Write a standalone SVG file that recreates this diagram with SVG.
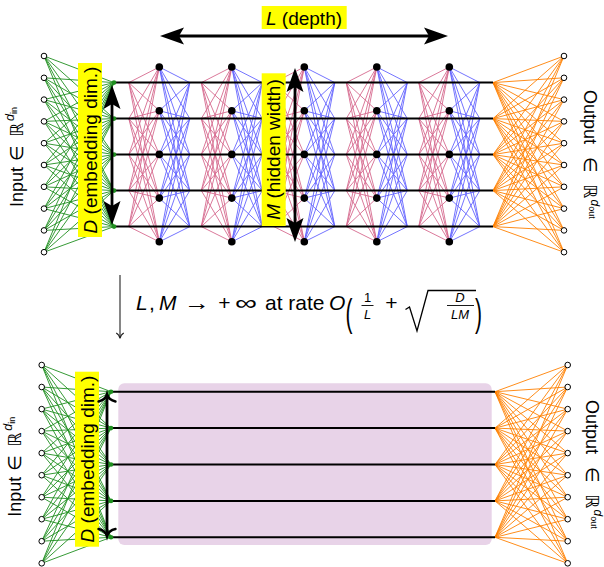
<svg xmlns="http://www.w3.org/2000/svg" xmlns:xlink="http://www.w3.org/1999/xlink" width="604" height="567" viewBox="0 0 604 567">
<style>
.g{stroke:#1f8f1f;stroke-width:.9;fill:none}
.pk{stroke:#d66a8e;stroke-width:.9;fill:none}
.bl{stroke:#6464ff;stroke-width:.9;fill:none}
.or{stroke:#ff8000;stroke-width:.9;fill:none}
.res{stroke:#000;stroke-width:2;fill:none}
.io{fill:#fff;stroke:#000;stroke-width:1}
.gn{fill:#1f8f1f}
.hn{fill:#000}
.yb{fill:#ffff00}
.arr{stroke:#000;stroke-width:2.8;fill:none}
.lbl{font-family:"Liberation Sans","DejaVu Sans",sans-serif;font-size:19px;fill:#000}
.f{font-family:"Liberation Sans","DejaVu Sans",sans-serif;font-size:21px;fill:#000}
.s{font-family:"Liberation Sans","DejaVu Sans",sans-serif;font-size:13px;fill:#000}
.it{font-style:italic}
</style>
<defs>
<marker id="stealth" markerUnits="userSpaceOnUse" viewBox="-30 -12 40 24" markerWidth="40" markerHeight="24" refX="-8" refY="0" orient="auto-start-reverse" overflow="visible"><path d="M0 0L-24 -8.5L-19 0L-24 8.5Z" fill="#000"/></marker>
<marker id="barb" markerUnits="userSpaceOnUse" viewBox="-12 -12 24 24" markerWidth="24" markerHeight="24" refX="0" refY="0" orient="auto-start-reverse" overflow="visible"><path d="M-6.5 -8.5C-5.5 -3.5 -2 -0.8 0.8 0C-2 0.8 -5.5 3.5 -6.5 8.5" fill="none" stroke="#000" stroke-width="2.4" stroke-linecap="round"/></marker>
<marker id="to" markerUnits="userSpaceOnUse" viewBox="-8 -6 12 12" markerWidth="12" markerHeight="12" refX="0" refY="0" orient="auto" overflow="visible"><path d="M-5 -3.8C-4 -1.6 -1.5 -0.4 0.5 0C-1.5 0.4 -4 1.6 -5 3.8" fill="none" stroke="#222" stroke-width="1.1"/></marker>
<g id="layer">
<path class="pk" d="M0 67L-30.5 82.6M0 67L-30.5 118.6M0 67L-30.5 154.6M0 67L-30.5 190.6M0 67L-30.5 226.6M0 110.7L-30.5 82.6M0 110.7L-30.5 118.6M0 110.7L-30.5 154.6M0 110.7L-30.5 190.6M0 110.7L-30.5 226.6M0 154.4L-30.5 82.6M0 154.4L-30.5 118.6M0 154.4L-30.5 154.6M0 154.4L-30.5 190.6M0 154.4L-30.5 226.6M0 198.1L-30.5 82.6M0 198.1L-30.5 118.6M0 198.1L-30.5 154.6M0 198.1L-30.5 190.6M0 198.1L-30.5 226.6M0 241.8L-30.5 82.6M0 241.8L-30.5 118.6M0 241.8L-30.5 154.6M0 241.8L-30.5 190.6M0 241.8L-30.5 226.6"/>
<path class="bl" d="M0 67L30.5 82.6M0 67L30.5 118.6M0 67L30.5 154.6M0 67L30.5 190.6M0 67L30.5 226.6M0 110.7L30.5 82.6M0 110.7L30.5 118.6M0 110.7L30.5 154.6M0 110.7L30.5 190.6M0 110.7L30.5 226.6M0 154.4L30.5 82.6M0 154.4L30.5 118.6M0 154.4L30.5 154.6M0 154.4L30.5 190.6M0 154.4L30.5 226.6M0 198.1L30.5 82.6M0 198.1L30.5 118.6M0 198.1L30.5 154.6M0 198.1L30.5 190.6M0 198.1L30.5 226.6M0 241.8L30.5 82.6M0 241.8L30.5 118.6M0 241.8L30.5 154.6M0 241.8L30.5 190.6M0 241.8L30.5 226.6"/>
</g>
</defs>

<rect id="limit-block" x="118.3" y="383.3" width="373.4" height="161.7" rx="6" fill="#e8d3e8"/>

<g id="connectors">
<path class="g" d="M114 82.6L44 56M114 82.6L44 77.8M114 82.6L44 99.6M114 82.6L44 121.4M114 82.6L44 143.2M114 82.6L44 165M114 82.6L44 186.8M114 82.6L44 208.6M114 82.6L44 230.4M114 82.6L44 252.2M114 118.6L44 56M114 118.6L44 77.8M114 118.6L44 99.6M114 118.6L44 121.4M114 118.6L44 143.2M114 118.6L44 165M114 118.6L44 186.8M114 118.6L44 208.6M114 118.6L44 230.4M114 118.6L44 252.2M114 154.6L44 56M114 154.6L44 77.8M114 154.6L44 99.6M114 154.6L44 121.4M114 154.6L44 143.2M114 154.6L44 165M114 154.6L44 186.8M114 154.6L44 208.6M114 154.6L44 230.4M114 154.6L44 252.2M114 190.6L44 56M114 190.6L44 77.8M114 190.6L44 99.6M114 190.6L44 121.4M114 190.6L44 143.2M114 190.6L44 165M114 190.6L44 186.8M114 190.6L44 208.6M114 190.6L44 230.4M114 190.6L44 252.2M114 226.6L44 56M114 226.6L44 77.8M114 226.6L44 99.6M114 226.6L44 121.4M114 226.6L44 143.2M114 226.6L44 165M114 226.6L44 186.8M114 226.6L44 208.6M114 226.6L44 230.4M114 226.6L44 252.2"/>
<use xlink:href="#layer" href="#layer" x="159.3"/>
<use xlink:href="#layer" href="#layer" x="231.8"/>
<use xlink:href="#layer" href="#layer" x="304.3"/>
<use xlink:href="#layer" href="#layer" x="376.8"/>
<use xlink:href="#layer" href="#layer" x="449.3"/>
<path class="or" d="M493 82.6L564 56M493 82.6L564 77.8M493 82.6L564 99.6M493 82.6L564 121.4M493 82.6L564 143.2M493 82.6L564 165M493 82.6L564 186.8M493 82.6L564 208.6M493 82.6L564 230.4M493 82.6L564 252.2M493 118.6L564 56M493 118.6L564 77.8M493 118.6L564 99.6M493 118.6L564 121.4M493 118.6L564 143.2M493 118.6L564 165M493 118.6L564 186.8M493 118.6L564 208.6M493 118.6L564 230.4M493 118.6L564 252.2M493 154.6L564 56M493 154.6L564 77.8M493 154.6L564 99.6M493 154.6L564 121.4M493 154.6L564 143.2M493 154.6L564 165M493 154.6L564 186.8M493 154.6L564 208.6M493 154.6L564 230.4M493 154.6L564 252.2M493 190.6L564 56M493 190.6L564 77.8M493 190.6L564 99.6M493 190.6L564 121.4M493 190.6L564 143.2M493 190.6L564 165M493 190.6L564 186.8M493 190.6L564 208.6M493 190.6L564 230.4M493 190.6L564 252.2M493 226.6L564 56M493 226.6L564 77.8M493 226.6L564 99.6M493 226.6L564 121.4M493 226.6L564 143.2M493 226.6L564 165M493 226.6L564 186.8M493 226.6L564 208.6M493 226.6L564 230.4M493 226.6L564 252.2"/>
<path class="res" d="M114 82.6H493M114 118.6H493M114 154.6H493M114 190.6H493M114 226.6H493"/>

<path class="g" d="M111 391.7L41.7 365M111 391.7L41.7 387M111 391.7L41.7 409.1M111 391.7L41.7 431.1M111 391.7L41.7 453.1M111 391.7L41.7 475.2M111 391.7L41.7 497.2M111 391.7L41.7 519.2M111 391.7L41.7 541.2M111 391.7L41.7 563.3M111 428.1L41.7 365M111 428.1L41.7 387M111 428.1L41.7 409.1M111 428.1L41.7 431.1M111 428.1L41.7 453.1M111 428.1L41.7 475.2M111 428.1L41.7 497.2M111 428.1L41.7 519.2M111 428.1L41.7 541.2M111 428.1L41.7 563.3M111 464.5L41.7 365M111 464.5L41.7 387M111 464.5L41.7 409.1M111 464.5L41.7 431.1M111 464.5L41.7 453.1M111 464.5L41.7 475.2M111 464.5L41.7 497.2M111 464.5L41.7 519.2M111 464.5L41.7 541.2M111 464.5L41.7 563.3M111 500.9L41.7 365M111 500.9L41.7 387M111 500.9L41.7 409.1M111 500.9L41.7 431.1M111 500.9L41.7 453.1M111 500.9L41.7 475.2M111 500.9L41.7 497.2M111 500.9L41.7 519.2M111 500.9L41.7 541.2M111 500.9L41.7 563.3M111 537.3L41.7 365M111 537.3L41.7 387M111 537.3L41.7 409.1M111 537.3L41.7 431.1M111 537.3L41.7 453.1M111 537.3L41.7 475.2M111 537.3L41.7 497.2M111 537.3L41.7 519.2M111 537.3L41.7 541.2M111 537.3L41.7 563.3"/>
<path class="or" d="M495 391.7L567.7 365M495 391.7L567.7 387M495 391.7L567.7 409.1M495 391.7L567.7 431.1M495 391.7L567.7 453.1M495 391.7L567.7 475.2M495 391.7L567.7 497.2M495 391.7L567.7 519.2M495 391.7L567.7 541.2M495 391.7L567.7 563.3M495 428.1L567.7 365M495 428.1L567.7 387M495 428.1L567.7 409.1M495 428.1L567.7 431.1M495 428.1L567.7 453.1M495 428.1L567.7 475.2M495 428.1L567.7 497.2M495 428.1L567.7 519.2M495 428.1L567.7 541.2M495 428.1L567.7 563.3M495 464.5L567.7 365M495 464.5L567.7 387M495 464.5L567.7 409.1M495 464.5L567.7 431.1M495 464.5L567.7 453.1M495 464.5L567.7 475.2M495 464.5L567.7 497.2M495 464.5L567.7 519.2M495 464.5L567.7 541.2M495 464.5L567.7 563.3M495 500.9L567.7 365M495 500.9L567.7 387M495 500.9L567.7 409.1M495 500.9L567.7 431.1M495 500.9L567.7 453.1M495 500.9L567.7 475.2M495 500.9L567.7 497.2M495 500.9L567.7 519.2M495 500.9L567.7 541.2M495 500.9L567.7 563.3M495 537.3L567.7 365M495 537.3L567.7 387M495 537.3L567.7 409.1M495 537.3L567.7 431.1M495 537.3L567.7 453.1M495 537.3L567.7 475.2M495 537.3L567.7 497.2M495 537.3L567.7 519.2M495 537.3L567.7 541.2M495 537.3L567.7 563.3"/>
<path class="res" d="M111 391.7H495M111 428.1H495M111 464.5H495M111 500.9H495M111 537.3H495"/>
</g>

<g id="top-input-nodes">
<g id="ti0"><circle class="io" cx="44" cy="56" r="2.8"/></g>
<g id="ti1"><circle class="io" cx="44" cy="77.8" r="2.8"/></g>
<g id="ti2"><circle class="io" cx="44" cy="99.6" r="2.8"/></g>
<g id="ti3"><circle class="io" cx="44" cy="121.4" r="2.8"/></g>
<g id="ti4"><circle class="io" cx="44" cy="143.2" r="2.8"/></g>
<g id="ti5"><circle class="io" cx="44" cy="165" r="2.8"/></g>
<g id="ti6"><circle class="io" cx="44" cy="186.8" r="2.8"/></g>
<g id="ti7"><circle class="io" cx="44" cy="208.6" r="2.8"/></g>
<g id="ti8"><circle class="io" cx="44" cy="230.4" r="2.8"/></g>
<g id="ti9"><circle class="io" cx="44" cy="252.2" r="2.8"/></g>
</g>
<g id="top-output-nodes">
<g id="to0"><circle class="io" cx="564" cy="56" r="2.8"/></g>
<g id="to1"><circle class="io" cx="564" cy="77.8" r="2.8"/></g>
<g id="to2"><circle class="io" cx="564" cy="99.6" r="2.8"/></g>
<g id="to3"><circle class="io" cx="564" cy="121.4" r="2.8"/></g>
<g id="to4"><circle class="io" cx="564" cy="143.2" r="2.8"/></g>
<g id="to5"><circle class="io" cx="564" cy="165" r="2.8"/></g>
<g id="to6"><circle class="io" cx="564" cy="186.8" r="2.8"/></g>
<g id="to7"><circle class="io" cx="564" cy="208.6" r="2.8"/></g>
<g id="to8"><circle class="io" cx="564" cy="230.4" r="2.8"/></g>
<g id="to9"><circle class="io" cx="564" cy="252.2" r="2.8"/></g>
</g>
<g id="top-embed-nodes">
<g id="te0"><circle class="gn" cx="114" cy="82.6" r="2.3"/></g>
<g id="te1"><circle class="gn" cx="114" cy="118.6" r="2.3"/></g>
<g id="te2"><circle class="gn" cx="114" cy="154.6" r="2.3"/></g>
<g id="te3"><circle class="gn" cx="114" cy="190.6" r="2.3"/></g>
<g id="te4"><circle class="gn" cx="114" cy="226.6" r="2.3"/></g>
</g>
<g id="top-hidden-nodes">
<g id="h1-1"><circle class="hn" cx="159.3" cy="67" r="3.8"/></g>
<g id="h1-2"><circle class="hn" cx="159.3" cy="110.7" r="3.8"/></g>
<g id="h1-3"><circle class="hn" cx="159.3" cy="154.4" r="3.8"/></g>
<g id="h1-4"><circle class="hn" cx="159.3" cy="198.1" r="3.8"/></g>
<g id="h1-5"><circle class="hn" cx="159.3" cy="241.8" r="3.8"/></g>
<g id="h2-1"><circle class="hn" cx="231.8" cy="67" r="3.8"/></g>
<g id="h2-2"><circle class="hn" cx="231.8" cy="110.7" r="3.8"/></g>
<g id="h2-3"><circle class="hn" cx="231.8" cy="154.4" r="3.8"/></g>
<g id="h2-4"><circle class="hn" cx="231.8" cy="198.1" r="3.8"/></g>
<g id="h2-5"><circle class="hn" cx="231.8" cy="241.8" r="3.8"/></g>
<g id="h3-1"><circle class="hn" cx="304.3" cy="67" r="3.8"/></g>
<g id="h3-2"><circle class="hn" cx="304.3" cy="110.7" r="3.8"/></g>
<g id="h3-3"><circle class="hn" cx="304.3" cy="154.4" r="3.8"/></g>
<g id="h3-4"><circle class="hn" cx="304.3" cy="198.1" r="3.8"/></g>
<g id="h3-5"><circle class="hn" cx="304.3" cy="241.8" r="3.8"/></g>
<g id="h4-1"><circle class="hn" cx="376.8" cy="67" r="3.8"/></g>
<g id="h4-2"><circle class="hn" cx="376.8" cy="110.7" r="3.8"/></g>
<g id="h4-3"><circle class="hn" cx="376.8" cy="154.4" r="3.8"/></g>
<g id="h4-4"><circle class="hn" cx="376.8" cy="198.1" r="3.8"/></g>
<g id="h4-5"><circle class="hn" cx="376.8" cy="241.8" r="3.8"/></g>
<g id="h5-1"><circle class="hn" cx="449.3" cy="67" r="3.8"/></g>
<g id="h5-2"><circle class="hn" cx="449.3" cy="110.7" r="3.8"/></g>
<g id="h5-3"><circle class="hn" cx="449.3" cy="154.4" r="3.8"/></g>
<g id="h5-4"><circle class="hn" cx="449.3" cy="198.1" r="3.8"/></g>
<g id="h5-5"><circle class="hn" cx="449.3" cy="241.8" r="3.8"/></g>
</g>

<g id="bottom-input-nodes">
<g id="bi0"><circle class="io" cx="41.7" cy="365" r="2.8"/></g>
<g id="bi1"><circle class="io" cx="41.7" cy="387" r="2.8"/></g>
<g id="bi2"><circle class="io" cx="41.7" cy="409.1" r="2.8"/></g>
<g id="bi3"><circle class="io" cx="41.7" cy="431.1" r="2.8"/></g>
<g id="bi4"><circle class="io" cx="41.7" cy="453.1" r="2.8"/></g>
<g id="bi5"><circle class="io" cx="41.7" cy="475.2" r="2.8"/></g>
<g id="bi6"><circle class="io" cx="41.7" cy="497.2" r="2.8"/></g>
<g id="bi7"><circle class="io" cx="41.7" cy="519.2" r="2.8"/></g>
<g id="bi8"><circle class="io" cx="41.7" cy="541.2" r="2.8"/></g>
<g id="bi9"><circle class="io" cx="41.7" cy="563.3" r="2.8"/></g>
</g>
<g id="bottom-output-nodes">
<g id="bo0"><circle class="io" cx="567.7" cy="365" r="2.8"/></g>
<g id="bo1"><circle class="io" cx="567.7" cy="387" r="2.8"/></g>
<g id="bo2"><circle class="io" cx="567.7" cy="409.1" r="2.8"/></g>
<g id="bo3"><circle class="io" cx="567.7" cy="431.1" r="2.8"/></g>
<g id="bo4"><circle class="io" cx="567.7" cy="453.1" r="2.8"/></g>
<g id="bo5"><circle class="io" cx="567.7" cy="475.2" r="2.8"/></g>
<g id="bo6"><circle class="io" cx="567.7" cy="497.2" r="2.8"/></g>
<g id="bo7"><circle class="io" cx="567.7" cy="519.2" r="2.8"/></g>
<g id="bo8"><circle class="io" cx="567.7" cy="541.2" r="2.8"/></g>
<g id="bo9"><circle class="io" cx="567.7" cy="563.3" r="2.8"/></g>
</g>
<g id="bottom-embed-nodes">
<g id="be0"><circle class="gn" cx="111" cy="391.7" r="2.3"/></g>
<g id="be1"><circle class="gn" cx="111" cy="428.1" r="2.3"/></g>
<g id="be2"><circle class="gn" cx="111" cy="464.5" r="2.3"/></g>
<g id="be3"><circle class="gn" cx="111" cy="500.9" r="2.3"/></g>
<g id="be4"><circle class="gn" cx="111" cy="537.3" r="2.3"/></g>
</g>

<g id="label-L">
<rect class="yb" x="261.7" y="6" width="85" height="23"/>
<text class="lbl" x="304" y="25" text-anchor="middle"><tspan class="it">L</tspan> (depth)</text>
</g>
<g id="label-D-top">
<rect class="yb" x="78" y="63" width="24" height="174"/>
<text class="lbl" transform="translate(96.5 150) rotate(-90)" text-anchor="middle"><tspan class="it">D</tspan> (embedding dim.)</text>
</g>
<g id="label-M">
<rect class="yb" x="261.7" y="73.3" width="24" height="152.7"/>
<text class="lbl" transform="translate(280 149.5) rotate(-90)" text-anchor="middle"><tspan class="it">M</tspan> (hidden width)</text>
</g>
<g id="label-D-bottom">
<rect class="yb" x="75" y="371.7" width="24" height="175"/>
<text class="lbl" transform="translate(93.5 459) rotate(-90)" text-anchor="middle"><tspan class="it">D</tspan> (embedding dim.)</text>
</g>

<g id="arrows">
<path class="arr" d="M168 36H440" marker-start="url(#stealth)" marker-end="url(#stealth)"/>
<path class="arr" d="M112 93V217" marker-start="url(#stealth)" marker-end="url(#stealth)"/>
<path class="arr" d="M295 76V234" marker-start="url(#stealth)" marker-end="url(#stealth)"/>
<path class="arr" stroke-width="2.4" d="M107 395V535.5" marker-start="url(#barb)" marker-end="url(#barb)"/>
<path d="M120 275V338" stroke="#222" stroke-width="1.1" fill="none" marker-end="url(#to)"/>
</g>

<g id="io-labels" class="lbl">
<text transform="translate(23 207) rotate(-90)" font-size="18"><tspan x="0">Input</tspan><tspan x="46">∈</tspan><tspan x="70">ℝ</tspan><tspan x="86" dy="-9" class="it" font-size="12.5">d</tspan><tspan dy="3" font-size="9">in</tspan></text>
<text transform="translate(583.5 90) rotate(90)" font-size="18"><tspan x="0">Output</tspan><tspan x="67">∈</tspan><tspan x="94">ℝ</tspan><tspan x="109.5" dy="-7.5" class="it" font-size="12">d</tspan><tspan dy="2.5" font-size="9">out</tspan></text>
<text transform="translate(20.5 516.7) rotate(-90)" font-size="18"><tspan x="0">Input</tspan><tspan x="46">∈</tspan><tspan x="70">ℝ</tspan><tspan x="86" dy="-9" class="it" font-size="12.5">d</tspan><tspan dy="3" font-size="9">in</tspan></text>
<text transform="translate(586 400) rotate(90)" font-size="18"><tspan x="0">Output</tspan><tspan x="67">∈</tspan><tspan x="94">ℝ</tspan><tspan x="109.5" dy="-7.5" class="it" font-size="12">d</tspan><tspan dy="2.5" font-size="9">out</tspan></text>
</g>

<g id="formula">
<text class="f it" x="136" y="310">L</text>
<text class="f" x="149" y="310">,</text>
<text class="f it" x="159" y="310">M</text>
<text class="f" x="184" y="310" textLength="26" lengthAdjust="spacingAndGlyphs">→</text>
<text class="f" x="224.5" y="310" text-anchor="middle" font-size="24">+</text>
<text class="f" x="235" y="310" textLength="22" lengthAdjust="spacingAndGlyphs">∞</text>
<text class="f" x="265" y="310">at rate</text>
<text class="f it" x="329" y="310">O</text>
<text class="f" transform="translate(345.5 326) scale(1 1.82)" font-size="30">(</text>
<text class="s" x="367.5" y="302" text-anchor="middle">1</text>
<path d="M361.5 305.5H373.5" stroke="#000" stroke-width="0.9"/>
<text class="s it" x="367.5" y="318.5" text-anchor="middle">L</text>
<text class="f" x="391.5" y="310" text-anchor="middle" font-size="24">+</text>
<path d="M405.5 309.5L409.5 307L417 331L428 290.5H476" stroke="#000" stroke-width="1.3" fill="none" stroke-linejoin="miter"/>
<text class="s it" x="460" y="302" text-anchor="middle">D</text>
<path d="M447 305.5H474" stroke="#000" stroke-width="0.9"/>
<text class="s it" x="460" y="318.5" text-anchor="middle">LM</text>
<text class="f" transform="translate(475 326) scale(1 1.82)" font-size="30">)</text>
</g>
</svg>
